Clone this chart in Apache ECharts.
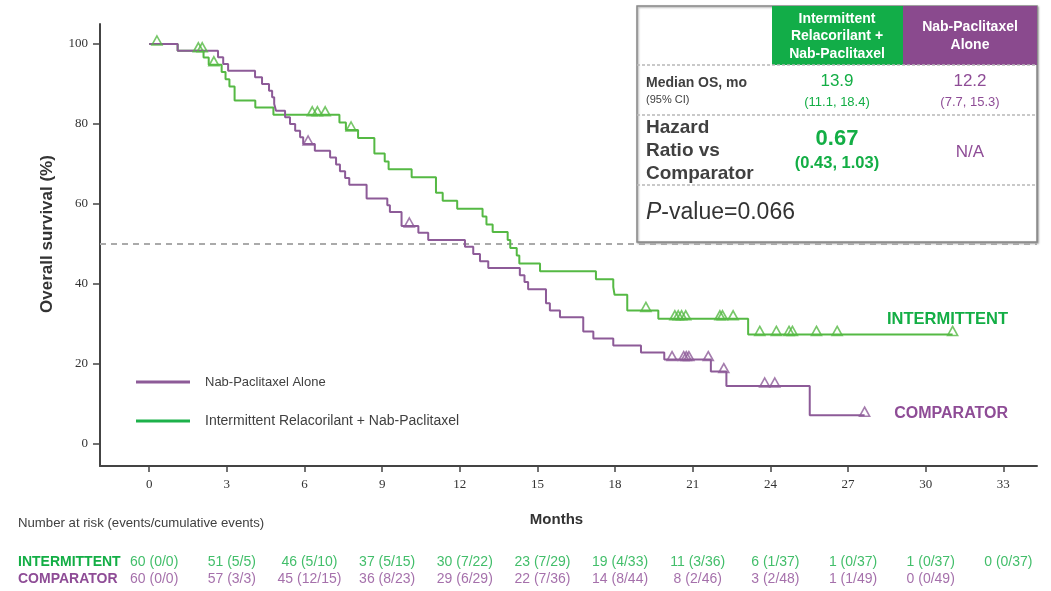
<!DOCTYPE html>
<html><head><meta charset="utf-8">
<script src="https://cdn.jsdelivr.net/npm/echarts@6/dist/echarts.min.js"></script>
<style>html,body{margin:0;padding:0;background:#fff}#c{width:1051px;height:591px}</style>
</head><body><div id="c"></div>
<script>
// ---------- data ----------
const monthTicks = [0,3,6,9,12,15,18,21,24,27,30,33];
const survivalTicks = [0,20,40,60,80,100];

// Intermittent Relacorilant + Nab-Paclitaxel: KM steps [month, survival % after step]
const intermittentSteps = [[0,100],[1.1,98.3],[2.1,96.6],[2.3,94.8],[2.8,93.0],[2.95,91.2],[3.1,89.4],[3.3,85.9],
  [4.1,84.1],[4.8,82.3],[7.35,80.4],[7.6,78.5],[8.07,76.5],[8.7,72.6],[9.1,70.6],[9.25,68.7],[10.14,66.7],
  [11.08,62.8],[11.34,60.8],[11.9,58.8],[12.88,56.9],[13.03,54.9],[13.27,53.0],[13.85,51.0],[13.95,49.0],
  [14.2,47.1],[14.3,45.1],[15.1,43.2],[17.26,41.2],[17.93,39.2],[17.98,37.3],[18.47,33.4],[19.67,31.3],[23.14,27.4]];
const intermittentLastFollowUp = 31.04;
const intermittentCensored = [0.3,1.9,2.05,2.5,6.3,6.5,6.8,7.8,19.19,20.31,20.44,20.57,20.73,22.05,22.15,22.56,
  23.59,24.23,24.72,24.85,25.78,26.58,31.04];

// Nab-Paclitaxel Alone
const comparatorSteps = [[0,100],[1.1,98.3],[2.66,96.7],[2.86,95.0],[3.05,93.3],[4.09,91.7],[4.36,90.0],[4.63,88.3],
  [4.75,86.7],[4.83,85.0],[4.9,83.3],[5.25,81.7],[5.44,80.0],[5.64,78.3],[5.83,76.7],[5.95,75.0],[6.4,73.3],
  [6.99,71.6],[7.22,69.9],[7.37,68.2],[7.57,66.5],[7.73,64.8],[8.4,61.4],[9.2,59.7],[9.3,58.0],[9.75,54.5],
  [10.4,52.8],[10.78,51.0],[12.2,49.3],[12.52,47.5],[12.78,45.7],[13.1,44.0],[14.32,42.2],[14.5,40.5],[14.64,38.7],
  [15.33,35.2],[15.48,33.4],[15.87,31.7],[16.77,28.1],[17.16,26.4],[17.93,24.6],[19.0,22.9],[19.9,21.1],
  [21.7,18.1],[22.3,14.5],[25.52,7.2]];
const comparatorLastFollowUp = 27.64;
const comparatorCensored = [6.14,10.05,20.2,20.65,20.75,20.85,21.6,22.2,23.78,24.17,27.64];

const medianLine = 50;

// number at risk
const riskMonths = [0,3,6,9,12,15,18,21,24,27,30,33];
const intermittentAtRisk = [60,51,46,37,30,23,19,11,6,1,1,0];
const intermittentEvents = [0,5,5,5,7,7,4,3,1,0,0,0];
const intermittentCumEvents = [0,5,10,15,22,29,33,36,37,37,37,37];
const comparatorAtRisk = [60,57,45,36,29,22,14,8,3,1,0];
const comparatorEvents = [0,3,12,8,6,7,8,2,2,1,0];
const comparatorCumEvents = [0,3,15,23,29,36,44,46,48,49,49];

// ---------- helpers ----------
const GREEN_LINE = '#55b944', PURPLE_LINE = '#8d5b98';
const GREEN_TXT = '#13ae45', PURPLE_TXT = '#8e4c96';
const SANS = 'Liberation Sans, Arial, sans-serif';
const SERIF = 'Liberation Serif, Times New Roman, serif';

function stepAt(steps, t){ let v = steps[0][1]; for (const s of steps){ if (s[0] <= t) v = s[1]; else break; } return v; }
function curve(steps, end){ return steps.concat([[end, steps[steps.length-1][1]]]); }
function censorPts(steps, times){ return times.map(t => [t, stepAt(steps, t)]); }
function riskRow(name, atRisk, ev, cum){ return atRisk.map((n,i) => [riskMonths[i], name, n + ' (' + ev[i] + '/' + cum[i] + ')']); }

const chart = echarts.init(document.getElementById('c'), null, {renderer:'canvas'});

const tri = (color) => ({
  type:'scatter', symbol:'triangle', symbolSize:[10,9], symbolOffset:[0,-3.5],
  itemStyle:{color:'rgba(255,255,255,0)', borderColor:color, borderWidth:1.6}, z:5, silent:true
});

const option = {
  animation:false,
  backgroundColor:'#fff',
  grid:[{left:100, right:14, top:24, bottom:125},{left:100, right:14, top:553.5, height:34}],
  xAxis:[{
    type:'value', min:-1.9, max:34.3, gridIndex:0,
    name:'Months', nameLocation:'middle', nameGap:46,
    nameTextStyle:{fontFamily:SANS, fontWeight:'bold', fontSize:15, color:'#333', padding:[0,24,0,0]},
    axisLine:{show:true, onZero:false, lineStyle:{color:'#444', width:2}},
    axisTick:{show:true, customValues:monthTicks, length:6, lineStyle:{color:'#444', width:1.5}},
    axisLabel:{customValues:monthTicks, fontFamily:SERIF, fontSize:13, color:'#333', margin:12},
    splitLine:{show:false}
  },{
    type:'value', min:-1.9, max:34.3, gridIndex:1, show:false
  }],
  yAxis:[{
    type:'value', min:-5.5, max:105, gridIndex:0,
    axisLine:{show:true, onZero:false, lineStyle:{color:'#444', width:2}},
    axisTick:{show:true, customValues:survivalTicks, length:7, lineStyle:{color:'#444', width:1.5}},
    axisLabel:{customValues:survivalTicks, fontFamily:SERIF, fontSize:13, color:'#333', margin:12},
    splitLine:{show:false}
  },{
    type:'category', gridIndex:1, show:false, inverse:true,
    data:['INTERMITTENT','COMPARATOR']
  }],
  series:[
    {name:'Intermittent Relacorilant + Nab-Paclitaxel', type:'line', step:'end', symbol:'none',
     data:curve(intermittentSteps, intermittentLastFollowUp),
     lineStyle:{color:GREEN_LINE, width:2}, z:3, silent:true},
    {name:'Nab-Paclitaxel Alone', type:'line', step:'end', symbol:'none',
     data:curve(comparatorSteps, comparatorLastFollowUp),
     lineStyle:{color:PURPLE_LINE, width:2}, z:4, silent:true,
     markLine:{silent:true, symbol:'none', label:{show:false}, animation:false,
       lineStyle:{color:'#aaaaaa', width:2, type:[6,5]}, data:[{yAxis:medianLine}], z:1}},
    Object.assign(tri(GREEN_LINE), {data:censorPts(intermittentSteps, intermittentCensored)}),
    Object.assign(tri(PURPLE_LINE), {data:censorPts(comparatorSteps, comparatorCensored)}),
    {type:'scatter', xAxisIndex:1, yAxisIndex:1, symbolSize:0, silent:true,
     data:riskRow('INTERMITTENT', intermittentAtRisk, intermittentEvents, intermittentCumEvents),
     label:{show:true, position:'inside', offset:[5,0], formatter:p=>p.value[2],
       fontFamily:SANS, fontSize:14, color:GREEN_TXT}},
    {type:'scatter', xAxisIndex:1, yAxisIndex:1, symbolSize:0, silent:true,
     data:riskRow('COMPARATOR', comparatorAtRisk, comparatorEvents, comparatorCumEvents),
     label:{show:true, position:'inside', offset:[5,0], formatter:p=>p.value[2],
       fontFamily:SANS, fontSize:14, color:PURPLE_TXT}}
  ],
  graphic:[
    // y axis title
    {type:'text', x:47, y:234, rotation:Math.PI/2,
     style:{text:'Overall survival (%)', fontFamily:SANS, fontWeight:'bold', fontSize:17, fill:'#333', align:'center', verticalAlign:'middle'}},
    // legend
    {type:'line', shape:{x1:136,y1:382,x2:190,y2:382}, style:{stroke:PURPLE_LINE, lineWidth:3}},
    {type:'text', x:205, y:382, style:{text:'Nab-Paclitaxel Alone', fontFamily:SANS, fontSize:13, fill:'#404040', verticalAlign:'middle'}},
    {type:'line', shape:{x1:136,y1:421,x2:190,y2:421}, style:{stroke:'#1db14b', lineWidth:3}},
    {type:'text', x:205, y:421, style:{text:'Intermittent Relacorilant + Nab-Paclitaxel', fontFamily:SANS, fontSize:14, fill:'#404040', verticalAlign:'middle'}},
    // curve labels
    {type:'text', x:1008, y:319, style:{text:'INTERMITTENT', fontFamily:SANS, fontWeight:'bold', fontSize:16.5, fill:GREEN_TXT, align:'right', verticalAlign:'middle'}},
    {type:'text', x:1008, y:414, style:{text:'COMPARATOR', fontFamily:SANS, fontWeight:'bold', fontSize:16, fill:PURPLE_TXT, align:'right', verticalAlign:'middle'}},
    // risk table labels
    {type:'text', x:18, y:523, style:{text:'Number at risk (events/cumulative events)', fontFamily:SANS, fontSize:13.2, fill:'#404040', verticalAlign:'middle'}},
    {type:'text', x:18, y:562, style:{text:'INTERMITTENT', fontFamily:SANS, fontWeight:'bold', fontSize:14, fill:GREEN_TXT, verticalAlign:'middle'}},
    {type:'text', x:18, y:579, style:{text:'COMPARATOR', fontFamily:SANS, fontWeight:'bold', fontSize:14, fill:PURPLE_TXT, verticalAlign:'middle'}},
    // summary table
    {type:'group', z:100, children:[
      {type:'rect', shape:{x:637,y:6,width:400,height:236}, style:{fill:'#fff', stroke:'#888', lineWidth:1.5, shadowBlur:2, shadowOffsetX:1, shadowOffsetY:1, shadowColor:'rgba(0,0,0,0.35)'}},
      {type:'rect', shape:{x:772,y:6,width:131,height:59}, style:{fill:'#12ad48'}},
      {type:'rect', shape:{x:903,y:6,width:134,height:59}, style:{fill:'#8a4a8e'}},
      {type:'line', shape:{x1:637,y1:65,x2:1037,y2:65}, style:{stroke:'#b8b8b8', lineWidth:1.5, lineDash:[3,2]}},
      {type:'line', shape:{x1:637,y1:115,x2:1037,y2:115}, style:{stroke:'#b8b8b8', lineWidth:1.5, lineDash:[3,2]}},
      {type:'line', shape:{x1:637,y1:185,x2:1037,y2:185}, style:{stroke:'#b8b8b8', lineWidth:1.5, lineDash:[3,2]}},
      {type:'text', x:837, y:36.5, style:{text:'Intermittent\nRelacorilant +\nNab-Paclitaxel', lineHeight:17.5, fontFamily:SANS, fontWeight:'bold', fontSize:14, fill:'#fff', align:'center', verticalAlign:'middle'}},
      {type:'text', x:970, y:36, style:{text:'Nab-Paclitaxel\nAlone', lineHeight:18, fontFamily:SANS, fontWeight:'bold', fontSize:14, fill:'#fff', align:'center', verticalAlign:'middle'}},
      {type:'text', x:646, y:83, style:{text:'Median OS, mo', fontFamily:SANS, fontWeight:'bold', fontSize:14, fill:'#404040', verticalAlign:'middle'}},
      {type:'text', x:646, y:100, style:{text:'(95% CI)', fontFamily:SANS, fontSize:11, fill:'#404040', verticalAlign:'middle'}},
      {type:'text', x:837, y:81, style:{text:'13.9', fontFamily:SANS, fontSize:17, fill:GREEN_TXT, align:'center', verticalAlign:'middle'}},
      {type:'text', x:837, y:102, style:{text:'(11.1, 18.4)', fontFamily:SANS, fontSize:13, fill:GREEN_TXT, align:'center', verticalAlign:'middle'}},
      {type:'text', x:970, y:81, style:{text:'12.2', fontFamily:SANS, fontSize:17, fill:PURPLE_TXT, align:'center', verticalAlign:'middle'}},
      {type:'text', x:970, y:102, style:{text:'(7.7, 15.3)', fontFamily:SANS, fontSize:13, fill:PURPLE_TXT, align:'center', verticalAlign:'middle'}},
      {type:'text', x:646, y:151, style:{text:'Hazard\nRatio vs\nComparator', lineHeight:23, fontFamily:SANS, fontWeight:'bold', fontSize:19, fill:'#404040', verticalAlign:'middle'}},
      {type:'text', x:837, y:139, style:{text:'0.67', fontFamily:SANS, fontWeight:'bold', fontSize:22, fill:GREEN_TXT, align:'center', verticalAlign:'middle'}},
      {type:'text', x:837, y:163, style:{text:'(0.43, 1.03)', fontFamily:SANS, fontWeight:'bold', fontSize:16.5, fill:GREEN_TXT, align:'center', verticalAlign:'middle'}},
      {type:'text', x:970, y:152, style:{text:'N/A', fontFamily:SANS, fontSize:17, fill:PURPLE_TXT, align:'center', verticalAlign:'middle'}},
      {type:'text', x:646, y:213, style:{text:'{i|P}-value=0.066', fontFamily:SANS, fontSize:23, fill:'#333', verticalAlign:'middle',
        rich:{i:{fontFamily:SANS, fontSize:23, fontStyle:'italic', fill:'#333'}}}}
    ]}
  ]
};
chart.setOption(option);
</script>
</body></html>
